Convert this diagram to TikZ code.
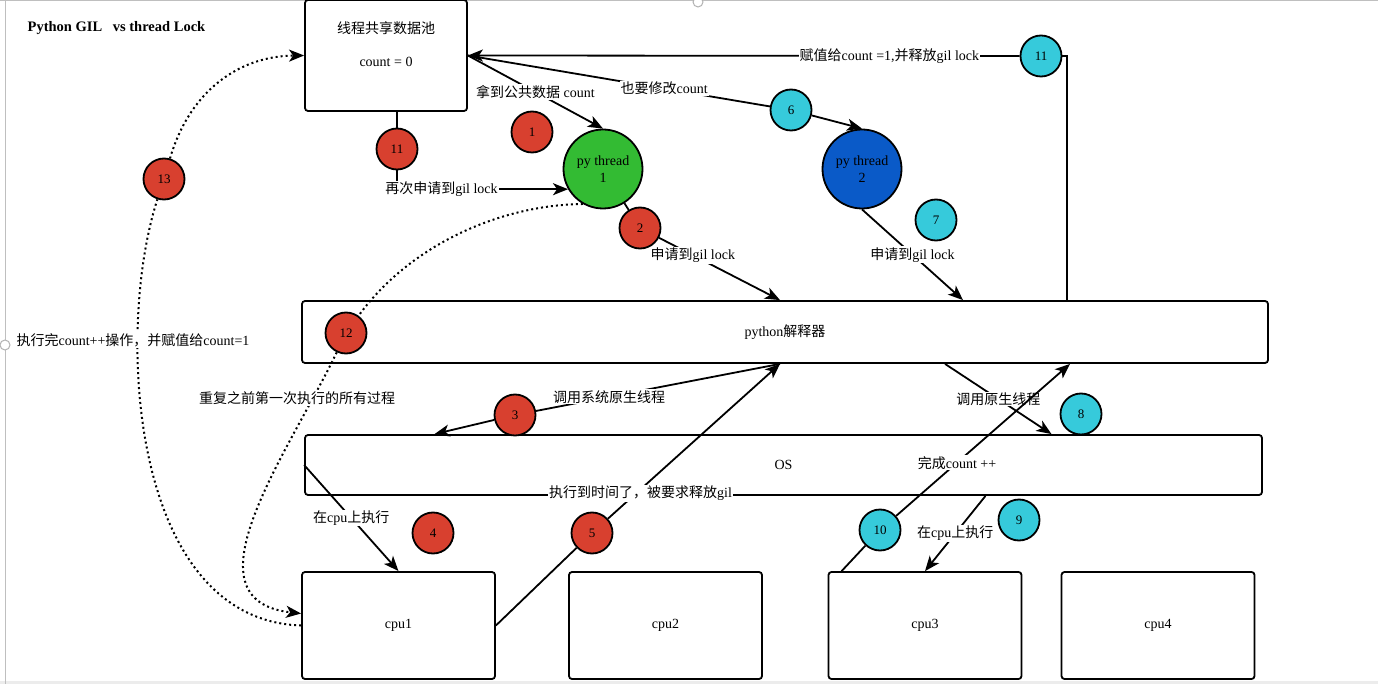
\documentclass[tikz,border=0pt]{standalone}
\usepackage{fontspec}
\setmainfont{Liberation Serif}
\newfontfamily\cjk{Noto Sans CJK SC}
\usepackage{tikz}
\usetikzlibrary{arrows.meta,calc}
\newcommand{\zh}[1]{{\cjk #1}}
\definecolor{stepred}{HTML}{D8402F}
\definecolor{stepcyan}{HTML}{36CADB}
\definecolor{threadgreen}{HTML}{33BB33}
\definecolor{threadblue}{HTML}{0A5AC8}

\begin{document}
\begin{tikzpicture}[x=1pt,y=-1pt,
  font=\fontsize{14}{17}\selectfont,
  box/.style={draw,line width=1.8pt,rounded corners=3pt,inner sep=0pt},
  thread/.style={circle,draw,line width=1.8pt,minimum size=79pt,inner sep=0pt,align=center},
  redstep/.style={circle,draw,line width=1.8pt,fill=stepred,minimum size=41pt,inner sep=0pt,font=\fontsize{13}{15}\selectfont},
  cyanstep/.style={redstep,fill=stepcyan},
  lbl/.style={fill=white,inner sep=1pt},
  conn/.style={line width=1.8pt},
  arr/.style={conn,-{Stealth[length=15pt,width=12pt,inset=4pt]}},
  dotline/.style={line width=2pt,dash pattern=on 2pt off 3pt},
  ]
  \useasboundingbox (0,0) rectangle (1378,684);
  % frame of the screenshot
  \fill[gray!15] (0,681) rectangle (1378,684);
  \draw[gray!50,line width=1pt] (5,0) -- (5,684) (0,1) -- (1378,1);
  \draw[gray!60,fill=white,line width=1pt] (5,345) circle[radius=5pt] (698,2) circle[radius=5pt];

  \node[font=\fontsize{14.5}{17}\selectfont\bfseries] (title) at (116.5,28) {Python GIL\hspace{7pt} vs thread Lock};

  % boxes
  \node[box,minimum width=162pt,minimum height=111pt,align=center] (pool) at (386,55.5)
    {\zh{线程共享数据池}\\[16pt]count = 0\\[6pt]\mbox{}};
  \node[box,minimum width=966pt,minimum height=62pt] (interp) at (785,332) {python\zh{解释器}};
  \node[box,minimum width=957pt,minimum height=60pt] (os) at (783.5,465) {OS};
  \foreach \n/\x in {1/398.5,2/665.5,3/925,4/1158}
    \node[box,minimum width=193pt,minimum height=107pt] (cpu\n) at (\x,625.5) {cpu\n};

  % threads
  \node[thread,fill=threadgreen] (t1) at (603,169) {py thread\\1};
  \node[thread,fill=threadblue] (t2) at (862,169) {py thread\\2};

  % steps
  \node[redstep] (s1) at (532,132) {1};
  \node[redstep] (s2) at (640,228) {2};
  \node[redstep] (s3) at (515,415) {3};
  \node[redstep] (s4) at (433,533) {4};
  \node[redstep] (s5) at (592,533) {5};
  \node[cyanstep] (s6) at (791,110) {6};
  \node[cyanstep] (s7) at (936,220) {7};
  \node[cyanstep] (s8) at (1081,414) {8};
  \node[cyanstep] (s9) at (1019,520) {9};
  \node[cyanstep] (s10) at (880,530) {10};
  \node[cyanstep] (s11b) at (1041,56) {11};
  \node[redstep] (s11a) at (397,149) {11};
  \node[redstep] (s12) at (346,333) {12};
  \node[redstep] (s13) at (164,179) {13};

  % thread 1
  \draw[arr] (pool.east) -- node[lbl]{\zh{拿到公共数据} count} (t1.north);
  \draw[conn] (t1) -- (s2);
  \draw[arr] (s2) -- node[lbl,pos=0.28]{\zh{申请到}gil lock} ([xshift=-5pt]interp.north);
  \draw[conn] ([xshift=-5pt]interp.south) -- node[lbl,pos=0.7]{\zh{调用系统原生线程}} (s3);
  \draw[arr] (s3) -- ([xshift=-349pt]os.north);
  \draw[arr] (os.west) -- node[lbl]{\zh{在}cpu\zh{上执行}} (cpu1.north);
  \draw[conn] (cpu1.east) -- (s5);
  \draw[arr] (s5) -- node[lbl,pos=0.19,yshift=-4pt]{\zh{执行到时间了，被要求释放}gil} ([xshift=-5pt]interp.south);

  % thread 2
  \draw[conn] (pool.east) -- node[lbl,pos=0.65]{\zh{也要修改}count} (s6);
  \draw[arr] (s6) -- (t2.north);
  \draw[arr] (t2.south) -- node[lbl]{\zh{申请到}gil lock} ([xshift=178pt]interp.north);
  \draw[arr] ([xshift=160pt]interp.south) -- node[lbl]{\zh{调用原生线程}} ([xshift=268pt]os.north);
  \draw[arr] ([xshift=202pt]os.south) -- node[lbl]{\zh{在}cpu\zh{上执行}} (cpu3.north);
  \draw[conn] ([xshift=14pt]cpu3.north west) -- (s10);
  \draw[arr] (s10) -- node[lbl,pos=0.35]{\zh{完成}count ++} ([xshift=285pt]interp.south);
  \coordinate (c11) at (1067,56);
  \draw[conn] (c11 |- interp.north) -- (c11) -- (s11b);
  \draw[arr] (s11b) -- node[lbl,pos=0.236]{\zh{赋值给}count =1,\zh{并释放}gil lock} (pool.east);

  % back to thread 1
  \draw[conn] (pool.south -| s11a) -- (s11a);
  \draw[arr] (s11a) |- node[lbl,pos=0.63]{\zh{再次申请到}gil lock} (t1.210);
  \draw[dotline] (t1.240) .. controls (500,205) and (410,245) .. (s12);
  \draw[dotline,-{Stealth[length=15pt,width=12pt,inset=4pt]}] (s12) .. controls (290,450) and (180,600) .. ([yshift=12pt]cpu1.west);
  \node[lbl] (again) at (297,398) {\zh{重复之前第一次执行的所有过程}};
  \draw[dotline] (cpu1.west) .. controls (130,620) and (115,330) .. (s13);
  \draw[dotline,-{Stealth[length=15pt,width=12pt,inset=4pt]}] (s13) .. controls (190,90) and (240,56) .. (pool.west);
  \node[lbl] (done) at (133,340) {\zh{执行完}count++\zh{操作，并赋值给}count=1};
\end{tikzpicture}
\end{document}
